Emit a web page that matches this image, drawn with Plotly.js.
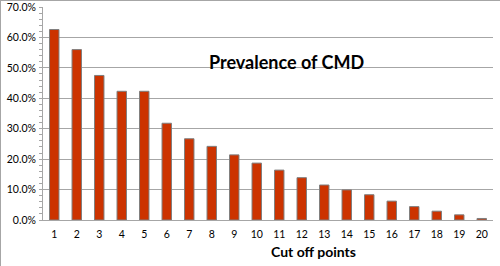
<!DOCTYPE html>
<html>
<head>
<meta charset="utf-8">
<script src="https://cdn.plot.ly/plotly-3.0.1.min.js"></script>
<style>
  html, body { margin: 0; padding: 0; background: #fff; }
  #wrap { position: relative; width: 500px; height: 266px; box-sizing: border-box; border-top: 1px solid #a6a6a6; border-left: 1px solid #a6a6a6; overflow: hidden; }
  #chart { position: absolute; left: -1px; top: -1px; width: 500px; height: 266px; }
</style>
</head>
<body>
<div id="wrap"><div id="chart"></div></div>
<script>
const categories = ["1","2","3","4","5","6","7","8","9","10","11","12","13","14","15","16","17","18","19","20"];
const prevalence = [0.626, 0.560, 0.475, 0.423, 0.423, 0.318, 0.267, 0.242, 0.214, 0.187, 0.164, 0.139, 0.115, 0.099, 0.083, 0.062, 0.044, 0.029, 0.017, 0.005];
const yTickVals = [0, 0.1, 0.2, 0.3, 0.4, 0.5, 0.6, 0.7];
const chartTitle = "Prevalence of CMD";
const xTitle = "Cut off points";

const font = "Lato, 'Open Sans', sans-serif";

Plotly.newPlot("chart", [{
  type: "bar",
  x: categories,
  y: prevalence,
  marker: { color: "#cc3300", line: { color: "#7f7f7f", width: 1 } },
  hoverinfo: "x+y"
}], {
  width: 500, height: 266,
  margin: { l: 43, r: 7, t: 7, b: 46 },
  paper_bgcolor: "rgba(0,0,0,0)",
  plot_bgcolor: "#fff",
  bargap: 0.58,
  showlegend: false,
  font: { family: font, size: 10, color: "#000" },
  xaxis: {
    type: "category",
    showgrid: false,
    showline: true, linecolor: "#a6a6a6", linewidth: 1,
    ticks: "", tickfont: { family: font, size: 10.5, color: "#000" },
    ticklabelstandoff: 4,
    fixedrange: true
  },
  yaxis: {
    range: [0, 0.7],
    tickvals: yTickVals,
    tickformat: ".1%",
    showgrid: true, gridcolor: "#a6a6a6", gridwidth: 1,
    showline: true, linecolor: "#a6a6a6", linewidth: 1,
    ticks: "", tickfont: { family: font, size: 10.5, color: "#000" },
    ticklabelstandoff: 4,
    zeroline: false,
    minor: { dtick: 0.02, tick0: 0, ticks: "outside", ticklen: 3, tickcolor: "#a6a6a6", showgrid: false },
    fixedrange: true
  },
  annotations: [
    { text: "<b>" + chartTitle + "</b>", xref: "paper", yref: "paper", x: 0.542, y: 0.742, xanchor: "center", yanchor: "middle", showarrow: false, font: { family: font, size: 18, color: "#000" } },
    { text: "<b>" + xTitle + "</b>", xref: "paper", yref: "paper", x: 0.602, y: -0.150, xanchor: "center", yanchor: "middle", showarrow: false, font: { family: font, size: 14, color: "#000" } }
  ]
}, { displayModeBar: false, staticPlot: true });
</script>
</body>
</html>
